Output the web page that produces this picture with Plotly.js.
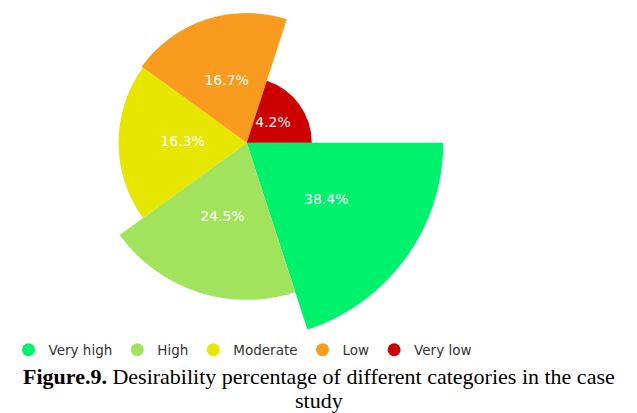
<!DOCTYPE html>
<html>
<head>
<meta charset="utf-8">
<script src="https://cdn.plot.ly/plotly-3.0.1.min.js"></script>
<style>
  html, body { margin:0; padding:0; width:637px; height:413px; overflow:hidden; background:#fff; }
  #chart { position:absolute; left:0; top:-60px; width:637px; height:473px; }
</style>
</head>
<body>
<div id="chart"></div>
<script>
const categories = ["Very high", "High", "Moderate", "Low", "Very low"];
const percentages = [38.4, 24.5, 16.3, 16.7, 4.2];
const labels = ["38.4%", "24.5%", "16.3%", "16.7%", "4.2%"];
const colors = ["#00F26C", "#A2E35E", "#E6E600", "#F99B1E", "#CC0000"];
const captionLines = [
  "<b>Figure.9.</b> Desirability percentage of different categories in the case",
  "study"
];

const sliceAngle = 360 / categories.length;
const thetas = categories.map((c, i) => sliceAngle * (i + 0.5));
// variable-radius pie: slice area proportional to value
const radii = percentages.map(v => Math.sqrt(v));

const traces = [];
traces.push({
  type: "barpolar",
  r: radii,
  theta: thetas,
  width: categories.map(() => sliceAngle),
  marker: { color: colors, line: { width: 0 } },
  showlegend: false,
  hoverinfo: "skip"
});
traces.push({
  type: "scatterpolar",
  mode: "text",
  r: radii.map(r => r / 2),
  theta: thetas,
  text: labels,
  textfont: { color: "#ffffff", size: 14, family: "DejaVu Sans, Verdana, sans-serif" },
  showlegend: false,
  hoverinfo: "skip"
});
categories.forEach((c, i) => {
  traces.push({
    type: "scatterpolar",
    mode: "markers",
    r: [null],
    theta: [null],
    name: c,
    marker: { color: colors[i], size: 13, symbol: "circle" },
    showlegend: true
  });
});

// page is shifted up by 60px so the big slice fits within the polar domain
const H = 473, shift = 60;
const py = s => (H - (s + shift)) / H;   // screen y -> paper y

const layout = {
  width: 637,
  height: H,
  margin: { l: 0, r: 0, t: 0, b: 0 },
  paper_bgcolor: "#ffffff",
  showlegend: true,
  polar: {
    domain: { x: [50 / 637, 443.4 / 637], y: [73.6 / H, 467 / H] },
    bgcolor: "rgba(0,0,0,0)",
    radialaxis: { visible: false, range: [0, Math.sqrt(Math.max(...percentages))] },
    angularaxis: {
      direction: "clockwise",
      rotation: 0,
      showline: false,
      showgrid: false,
      showticklabels: false,
      ticks: ""
    }
  },
  legend: {
    orientation: "h",
    x: 242.5 / 637,
    xanchor: "center",
    y: py(350),
    yanchor: "middle",
    font: { family: "DejaVu Sans, Verdana, sans-serif", size: 13.5, color: "#333333" },
    bgcolor: "rgba(0,0,0,0)"
  },
  annotations: captionLines.map((t, i) => ({
    xref: "paper", yref: "paper",
    x: 0.5, y: py(376 + 24 * i),
    xanchor: "center", yanchor: "middle",
    showarrow: false,
    text: t,
    font: { family: "Liberation Serif, Times New Roman, serif", size: 22, color: "#000000" }
  }))
};

Plotly.newPlot("chart", traces, layout, { displayModeBar: false, staticPlot: true });
</script>
</body>
</html>
